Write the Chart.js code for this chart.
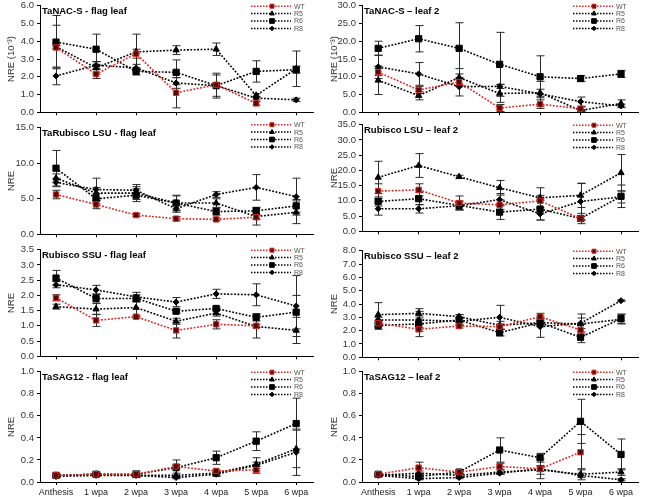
<!DOCTYPE html>
<html>
<head>
<meta charset="utf-8">
<script src="https://cdn.jsdelivr.net/npm/chart.js@4.4.0/dist/chart.umd.min.js"></script>
<style>
html, body { margin: 0; padding: 0; background: #fff; }
body { width: 646px; height: 497px; position: relative; overflow: hidden; }
canvas { position: absolute; }
</style>
</head>
<body>
<script>
// categories and series (order: WT, R5, R6, R8)
const weeks = ['Anthesis', '1 wpa', '2 wpa', '3 wpa', '4 wpa', '5 wpa', '6 wpa'];
const lines = ['WT', 'R5', 'R6', 'R8'];

// TaNAC-S flag leaf (10^-3)
const nacFlagMean = [
    [3.65, 2.15, 3.3, 1.1, 1.55, 0.5, null],
    [3.7, 2.5, 3.4, 3.5, 3.55, 0.95, 2.45],
    [3.95, 3.55, 2.3, 2.25, 1.5, 2.3, 2.4],
    [2.05, 2.65, 2.5, 1.65, 1.5, 0.8, 0.7]
];
const nacFlagSd = [
    [0.1, 0.25, 0.25, 0.85, 0.1, 0.1, null],
    [1.2, 0.35, 1.0, 0.25, 0.35, 0.1, 1.0],
    [1.5, 0.85, 0.2, 0.7, 0.7, 0.6, 0.2],
    [0.5, 0.2, 0.2, 0.3, 0.6, 0.1, 0.1]
];
// TaNAC-S leaf 2 (10^-3)
const nacLeafMean = [
    [11.3, 6.3, 8.5, 1.2, 2.3, 1.0, null],
    [9.0, 4.7, 9.8, 5.3, 5.5, 0.5, 2.5],
    [18.0, 20.7, 18.0, 13.5, 10.0, 9.5, 10.8],
    [12.8, 10.8, 7.2, 7.3, 5.2, 3.0, 1.8]
];
const nacLeafSd = [
    [1.0, 1.0, 1.0, 1.0, 1.2, 0.5, null],
    [4.0, 1.2, 2.5, 2.5, 1.0, 0.3, 1.0],
    [2.0, 3.7, 7.2, 9.0, 5.9, 0.8, 1.0],
    [3.3, 3.2, 2.6, 0.6, 3.5, 1.3, 0.5]
];
// TaRubisco LSU flag leaf
const lsuFlagMean = [
    [5.6, 4.2, 2.7, 2.2, 2.1, 2.4, null],
    [7.9, 5.8, 5.8, 4.4, 4.4, 2.5, 3.1],
    [9.3, 5.0, 5.5, 4.4, 3.2, 3.3, 4.0],
    [7.3, 6.3, 6.2, 3.6, 5.6, 6.6, 5.3]
];
const lsuFlagSd = [
    [0.6, 0.6, 0.2, 0.3, 0.2, 0.3, null],
    [0.6, 0.8, 0.9, 1.0, 0.6, 1.2, 1.6],
    [2.5, 0.7, 0.9, 1.1, 0.5, 0.5, 0.9],
    [0.6, 1.6, 0.8, 0.5, 0.4, 1.8, 2.6]
];
// Rubisco LSU leaf 2
const lsuLeafMean = [
    [13.2, 13.6, 9.3, 8.7, 10.0, 4.2, null],
    [17.7, 21.6, 17.9, 14.3, 11.0, 11.8, 19.2],
    [9.8, 10.7, 8.5, 6.3, 7.3, 4.2, 11.5],
    [7.4, 7.4, 8.4, 10.4, 5.7, 9.8, 11.3]
];
const lsuLeafSd = [
    [2.4, 2.0, 2.3, 1.6, 4.3, 0.8, null],
    [5.3, 3.9, 0.5, 2.4, 0.8, 4.0, 6.0],
    [1.5, 2.0, 1.5, 2.4, 3.6, 1.7, 3.7],
    [2.1, 1.4, 1.2, 2.0, 2.0, 5.9, 2.0]
];
// Rubisco SSU flag leaf
const ssuFlagMean = [
    [1.92, 1.18, 1.3, 0.85, 1.05, 1.0, null],
    [1.63, 1.55, 1.6, 1.15, 1.42, 0.98, 0.85],
    [2.57, 1.9, 1.9, 1.48, 1.57, 1.28, 1.45],
    [2.35, 2.18, 1.95, 1.78, 2.05, 2.02, 1.65]
];
const ssuFlagSd = [
    [0.1, 0.2, 0.05, 0.25, 0.15, 0.05, null],
    [0.08, 0.18, 0.3, 0.1, 0.1, 0.38, 0.43],
    [0.25, 0.15, 0.12, 0.06, 0.05, 0.12, 0.55],
    [0.1, 0.15, 0.15, 0.15, 0.15, 0.36, 1.0]
];
// Rubisco SSU leaf 2
const ssuLeafMean = [
    [2.55, 2.1, 2.35, 2.3, 3.05, 2.05, null],
    [3.2, 3.3, 3.05, 2.4, 2.6, 2.5, 2.85],
    [2.4, 2.5, 2.8, 1.85, 2.6, 1.5, 2.9],
    [2.8, 2.8, 2.7, 3.0, 2.3, 2.55, 4.25]
];
const ssuLeafSd = [
    [0.2, 0.15, 0.15, 0.2, 0.25, 0.4, null],
    [0.9, 0.35, 0.15, 0.3, 0.1, 0.75, 0.35],
    [0.3, 0.95, 0.4, 0.25, 0.3, 0.4, 0.35],
    [0.2, 0.3, 0.3, 0.9, 0.8, 0.4, 0.05]
];
// TaSAG12 flag leaf
const sagFlagMean = [
    [0.06, 0.07, 0.07, 0.14, 0.1, 0.11, null],
    [0.06, 0.07, 0.06, 0.06, 0.08, 0.16, 0.3],
    [0.06, 0.07, 0.07, 0.13, 0.22, 0.37, 0.53],
    [0.05, 0.06, 0.06, 0.04, 0.07, 0.15, 0.27]
];
const sagFlagSd = [
    [0.01, 0.01, 0.01, 0.02, 0.01, 0.03, null],
    [0.01, 0.01, 0.01, 0.02, 0.02, 0.06, 0.17],
    [0.01, 0.02, 0.03, 0.07, 0.06, 0.085, 0.23],
    [0.01, 0.01, 0.01, 0.01, 0.02, 0.03, 0.21]
];
// TaSAG12 leaf 2
const sagLeafMean = [
    [0.07, 0.13, 0.09, 0.14, 0.12, 0.27, null],
    [0.06, 0.08, 0.06, 0.09, 0.11, 0.07, 0.09],
    [0.07, 0.05, 0.09, 0.29, 0.22, 0.55, 0.25],
    [0.06, 0.03, 0.04, 0.08, 0.12, 0.06, 0.02]
];
const sagLeafSd = [
    [0.01, 0.05, 0.01, 0.03, 0.02, 0.16, null],
    [0.01, 0.02, 0.02, 0.02, 0.04, 0.05, 0.03],
    [0.01, 0.02, 0.02, 0.11, 0.04, 0.2, 0.14],
    [0.01, 0.01, 0.01, 0.01, 0.09, 0.02, 0.01]
];

const styles = [
    {color: '#e0231c', point: 'rect', radius: 3.8, fill: '#4a0b0b'},
    {color: '#000', point: 'triangle', radius: 3.6, fill: '#000'},
    {color: '#000', point: 'rect', radius: 4.4, fill: '#000'},
    {color: '#000', point: 'rectRot', radius: 3, fill: '#000'}
];

function extrasPlugin(p) {
    return {
        id: 'extras',
        beforeDatasetsDraw(chart) {
            const ctx = chart.ctx;
            const x = chart.scales.x, y = chart.scales.y;
            ctx.save();
            ctx.strokeStyle = '#2a2a2a';
            ctx.lineWidth = 1;
            p.sd.forEach((errs, di) => {
                errs.forEach((e, j) => {
                    const m = p.mean[di][j];
                    if (e == null || m == null) return;
                    const px = Math.round(x.getPixelForValue(j)) + 0.5;
                    const yt = y.getPixelForValue(m + e);
                    const yb = y.getPixelForValue(Math.max(m - e, 0));
                    ctx.beginPath();
                    ctx.moveTo(px, yt); ctx.lineTo(px, yb);
                    ctx.moveTo(px - 4, yt); ctx.lineTo(px + 4, yt);
                    ctx.moveTo(px - 4, yb); ctx.lineTo(px + 4, yb);
                    ctx.stroke();
                });
            });
            ctx.restore();
        },
        afterDraw(chart) {
            const ctx = chart.ctx;
            const area = chart.chartArea;
            ctx.save();
            // panel title
            ctx.fillStyle = '#000';
            ctx.font = 'bold 9.5px "Liberation Sans", Arial, sans-serif';
            ctx.textBaseline = 'middle';
            ctx.textAlign = 'left';
            ctx.fillText(p.title, area.left + 2, area.top + 5.5);
            // legend
            const lt = area.top + (p.legendOff || 0.5);
            lines.forEach((name, i) => {
                const st = styles[i];
                const ly = lt + i * 7.4;
                ctx.strokeStyle = st.color;
                ctx.lineWidth = 1.5;
                ctx.setLineDash([1.5, 1.5]);
                ctx.beginPath();
                ctx.moveTo(area.left + 211, ly);
                ctx.lineTo(area.left + 251, ly);
                ctx.stroke();
                ctx.setLineDash([]);
                ctx.fillStyle = st.fill;
                ctx.strokeStyle = st.color;
                ctx.lineWidth = 1;
                Chart.helpers.drawPoint(ctx, {pointStyle: st.point, radius: st.radius * 0.75, rotation: 0, borderWidth: 1}, area.left + 232, ly);
                ctx.fillStyle = '#555';
                ctx.font = '7px "Liberation Sans", Arial, sans-serif';
                ctx.fillText(name, area.left + 254, ly + 0.5);
            });
            ctx.restore();
        }
    };
}

function makePanel(p) {
    const cv = document.createElement('canvas');
    const left = p.col === 0 ? 0 : 323;
    const axisW = p.col === 0 ? 40 : 39;
    const padR = p.col === 0 ? 10 : 8;
    const xH = p.last ? 17 : 5;
    const h = 8 + 111 + xH;
    cv.width = 323; cv.height = h;
    cv.style.left = left + 'px';
    cv.style.top = (p.top - 8) + 'px';
    cv.style.width = '323px';
    cv.style.height = h + 'px';
    document.body.appendChild(cv);

    const datasets = lines.map((name, i) => ({
        label: name,
        data: p.mean[i].map((v, j) => ({x: j, y: v})),
        borderColor: styles[i].color,
        borderWidth: 1.6,
        borderDash: [1.8, 1.6],
        pointStyle: styles[i].point,
        pointRadius: styles[i].radius,
        pointBackgroundColor: styles[i].fill,
        pointBorderColor: styles[i].color,
        pointBorderWidth: 1,
        fill: false,
        tension: 0
    }));

    new Chart(cv, {
        type: 'line',
        data: {datasets: datasets},
        options: {
            responsive: false,
            animation: false,
            devicePixelRatio: 1,
            layout: {padding: {top: 8, right: padR, left: 0, bottom: 0}},
            plugins: {legend: {display: false}, tooltip: {enabled: false}},
            scales: {
                x: {
                    type: 'linear',
                    min: -0.4,
                    max: 6.42,
                    afterBuildTicks: s => { s.ticks = weeks.map((w, i) => ({value: i})); },
                    afterFit: s => { s.height = xH; },
                    grid: {drawOnChartArea: false, drawTicks: true, tickLength: 3, color: '#000'},
                    border: {color: '#000', width: 1},
                    ticks: {
                        callback: v => p.last ? weeks[v] : '',
                        font: {family: '"Liberation Sans", Arial, sans-serif', size: 9},
                        color: '#222',
                        padding: 2,
                        maxRotation: 0,
                        autoSkip: false
                    }
                },
                y: {
                    min: 0,
                    max: p.max,
                    afterFit: s => { s.width = axisW; },
                    grid: {drawOnChartArea: false, drawTicks: true, tickLength: 3, color: '#000'},
                    border: {color: '#000', width: 1},
                    ticks: {
                        stepSize: p.step,
                        autoSkip: false,
                        callback: v => Number(v).toFixed(1),
                        font: {family: '"Liberation Sans", Arial, sans-serif', size: 9.5},
                        color: '#333',
                        padding: 3
                    },
                    title: {
                        display: true,
                        text: p.yTitle,
                        font: {family: '"Liberation Sans", Arial, sans-serif', size: 9.5},
                        color: '#333',
                        padding: {top: 6, bottom: 0}
                    }
                }
            }
        },
        plugins: [extrasPlugin(p)]
    });
}

const panels = [
    {col: 0, top: 5, max: 6, step: 1, yTitle: 'NRE (10⁻³)', title: 'TaNAC-S - flag leaf', mean: nacFlagMean, sd: nacFlagSd},
    {col: 1, top: 5, max: 30, step: 5, yTitle: 'NRE (10⁻³)', title: 'TaNAC-S – leaf 2', mean: nacLeafMean, sd: nacLeafSd},
    {col: 0, top: 127, max: 15, step: 5, yTitle: 'NRE', title: 'TaRubisco LSU - flag leaf', mean: lsuFlagMean, sd: lsuFlagSd, legendOff: -3},
    {col: 1, top: 124, max: 35, step: 5, yTitle: 'NRE', title: 'Rubisco LSU – leaf 2', mean: lsuLeafMean, sd: lsuLeafSd},
    {col: 0, top: 249, max: 3.5, step: 0.5, yTitle: 'NRE', title: 'Rubisco SSU - flag leaf', mean: ssuFlagMean, sd: ssuFlagSd},
    {col: 1, top: 250, max: 8, step: 1, yTitle: 'NRE', title: 'Rubisco SSU – leaf 2', mean: ssuLeafMean, sd: ssuLeafSd},
    {col: 0, top: 371, max: 1, step: 0.2, yTitle: 'NRE', title: 'TaSAG12 - flag leaf', mean: sagFlagMean, sd: sagFlagSd, last: true},
    {col: 1, top: 371, max: 1, step: 0.2, yTitle: 'NRE', title: 'TaSAG12 – leaf 2', mean: sagLeafMean, sd: sagLeafSd, last: true}
];

panels.forEach(makePanel);
</script>
</body>
</html>
